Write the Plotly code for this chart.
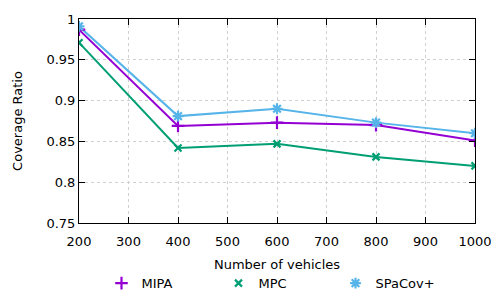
import plotly.graph_objects as go

vehicles = [200, 400, 600, 800, 1000]
mipa = [0.987, 0.869, 0.873, 0.870, 0.851]
mpc = [0.971, 0.842, 0.847, 0.831, 0.820]
spacov = [0.991, 0.881, 0.890, 0.873, 0.860]

series = [
    ("MIPA", mipa, "#9400d3", "cross-thin", 9),
    ("MPC", mpc, "#009e73", "x-thin", 7),
    ("SPaCov+", spacov, "#56b4e9", "asterisk", 9),
]

fig = go.Figure()
for name, vals, color, sym, sz in series:
    fig.add_trace(go.Scatter(
        x=vehicles, y=vals, name=name, mode="lines",
        line=dict(color=color, width=2), showlegend=False, hoverinfo="skip",
    ))
for name, vals, color, sym, sz in series:
    fig.add_trace(go.Scatter(
        x=vehicles, y=vals, name=name, mode="markers",
        marker=dict(symbol=sym, size=sz, color=color, line=dict(color=color, width=2.2)),
    ))

font = "DejaVu Sans"
fig.update_layout(
    width=500, height=300,
    margin=dict(l=79, r=25, t=19, b=77, autoexpand=False),
    plot_bgcolor="white", paper_bgcolor="white",
    font=dict(family=font, size=13, color="black"),
    showlegend=True,
    legend=dict(orientation="h", x=0.5, xanchor="center", y=-0.295, yanchor="middle",
                font=dict(size=13), entrywidth=72, traceorder="normal",
                bgcolor="rgba(0,0,0,0)"),
)
fig.update_xaxes(
    range=[200, 1000], dtick=100, tick0=200,
    showgrid=True, gridcolor="#d0d0d0", griddash="dot", gridwidth=1,
    ticks="inside", ticklen=6, tickcolor="black", mirror="ticks",
    ticklabelstandoff=6,
    showline=True, linecolor="black", linewidth=1, zeroline=False,
    title=dict(text="Number of vehicles", standoff=12, font=dict(size=13)),
)
fig.update_yaxes(
    range=[0.75, 1.0],
    tickvals=[0.75, 0.8, 0.85, 0.9, 0.95, 1.0],
    ticktext=["0.75", "0.8", "0.85", "0.9", "0.95", "1"],
    showgrid=True, gridcolor="#d0d0d0", griddash="dot", gridwidth=1,
    ticks="inside", ticklen=6, tickcolor="black", mirror="ticks",
    showline=True, linecolor="black", linewidth=1, zeroline=False,
    title=dict(text="Coverage Ratio", standoff=20, font=dict(size=13)),
)
fig.write_html("out.html", config={"displayModeBar": False},
               post_script="document.body.style.margin='0';document.body.style.padding='0';")
